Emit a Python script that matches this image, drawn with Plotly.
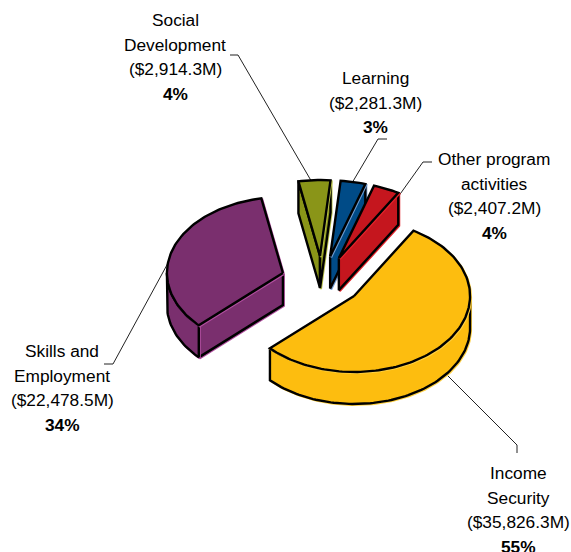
import math
import plotly.graph_objects as go

# Departmental spending by program activity, $ millions
programs = ["Income Security", "Skills and Employment", "Social Development", "Learning", "Other program activities"]
amounts = [35826.3, 22478.5, 2914.3, 2281.3, 2407.2]
colors = ["#FDBD0F", "#7A2F6E", "#8A9518", "#004B87", "#C5161E"]
edge_tints = ["#FFD040", "#B24FA0", "#B9C24A", "#6F9BD0", "#E5222A"]

label_lines = [
    (["Income", "Security", "($35,826.3M)", "<b>55%</b>"], 518, 473),
    (["Skills and", "Employment", "($22,478.5M)", "<b>34%</b>"], 62, 351),
    (["Social", "Development", "($2,914.3M)", "<b>4%</b>"], 175, 20),
    (["Learning", "($2,281.3M)", "<b>3%</b>"], 375, 78),
    (["Other program", "activities", "($2,407.2M)", "<b>4%</b>"], 494, 159),
]
leaders = [
    ([447, 517, 517], [375, 445, 453]),
    ([104, 113, 174], [364, 364, 252]),
    ([230, 238, 313], [55, 55, 184]),
    ([387, 378, 352], [139, 139, 183]),
    ([432, 423, 398], [162, 162, 197]),
]

# Pie projection: tilted ellipse, exploded slices, extruded rim
PIE_X, PIE_Y = 322.0, 280.6
RX, RY = 116.0, 76.0
EXPLODE_X, EXPLODE_Y = 0.354, 0.324
DEPTH = 32.0
FIRST_ANGLE = 59.2
LINE_SPACING = 24.7
OUTLINE = 2.4


def project(cx, cy, deg, drop=0.0):
    a = math.radians(deg)
    return cx + RX * math.cos(a), cy - RY * math.sin(a) + drop


def arc(cx, cy, start, stop, drop=0.0):
    n = max(2, int(abs(stop - start) / 1.5))
    return [project(cx, cy, start + (stop - start) * i / n, drop) for i in range(n + 1)]


def add_poly(fig, pts, color, tint):
    xs = [p[0] for p in pts] + [pts[0][0]]
    ys = [p[1] for p in pts] + [pts[0][1]]
    # thin tinted fringe peeking out below and right of the outline
    fig.add_trace(go.Scatter(
        x=[v + 1 for v in xs], y=[v + 1 for v in ys], mode="lines",
        line=dict(color=tint, width=2), hoverinfo="skip", showlegend=False,
    ))
    fig.add_trace(go.Scatter(
        x=xs, y=ys, mode="lines", fill="toself", fillcolor=color,
        line=dict(color="#000000", width=OUTLINE), hoverinfo="skip", showlegend=False,
    ))


fig = go.Figure()

for xs, ys in leaders:
    fig.add_trace(go.Scatter(x=xs, y=ys, mode="lines", line=dict(color="#222222", width=1),
                             hoverinfo="skip", showlegend=False))

total = sum(amounts)
start = FIRST_ANGLE
slices = []
for amount, color, tint in zip(amounts, colors, edge_tints):
    sweep = amount / total * 360.0
    stop = start - sweep
    mid = math.radians((start + stop) / 2)
    cx = PIE_X + EXPLODE_X * RX * math.cos(mid)
    cy = PIE_Y - EXPLODE_Y * RY * math.sin(mid)
    slices.append((cx, cy, start, stop, color, tint))
    start = stop

# Back slices first so the nearer ones overlap them
for cx, cy, a0, a1, color, tint in [slices[i] for i in (2, 3, 4, 1, 0)]:
    # cut faces turned towards the viewer
    if math.cos(math.radians(a0)) < 0:
        p = project(cx, cy, a0)
        add_poly(fig, [(cx, cy), p, (p[0], p[1] + DEPTH), (cx, cy + DEPTH)], color, tint)
    if math.cos(math.radians(a1)) > 0:
        p = project(cx, cy, a1)
        add_poly(fig, [(cx, cy), p, (p[0], p[1] + DEPTH), (cx, cy + DEPTH)], color, tint)
    # outer rim: only the part of the arc facing the viewer
    for base in (0, -360, 360):
        s0, s1 = max(a1, -180 + base), min(a0, 0 + base)
        if s1 > s0:
            add_poly(fig, arc(cx, cy, s1, s0) + arc(cx, cy, s0, s1, DEPTH), color, tint)
    # top surface
    add_poly(fig, [(cx, cy)] + arc(cx, cy, a0, a1), color, tint)

annotations = []
for lines, x, y0 in label_lines:
    for i, text in enumerate(lines):
        annotations.append(dict(
            x=x, y=y0 + i * LINE_SPACING, text=text, showarrow=False,
            xanchor="center", yanchor="middle",
            font=dict(family="Liberation Sans, Arial, sans-serif", size=17.3, color="#000000"),
        ))

fig.update_layout(
    width=571, height=552, margin=dict(l=0, r=0, t=0, b=0),
    paper_bgcolor="#FFFFFF", plot_bgcolor="#FFFFFF", showlegend=False,
    xaxis=dict(range=[0, 571], visible=False, fixedrange=True),
    yaxis=dict(range=[552, 0], visible=False, fixedrange=True),
    annotations=annotations,
)
fig.write_html("out.html", config={"displayModeBar": False})
